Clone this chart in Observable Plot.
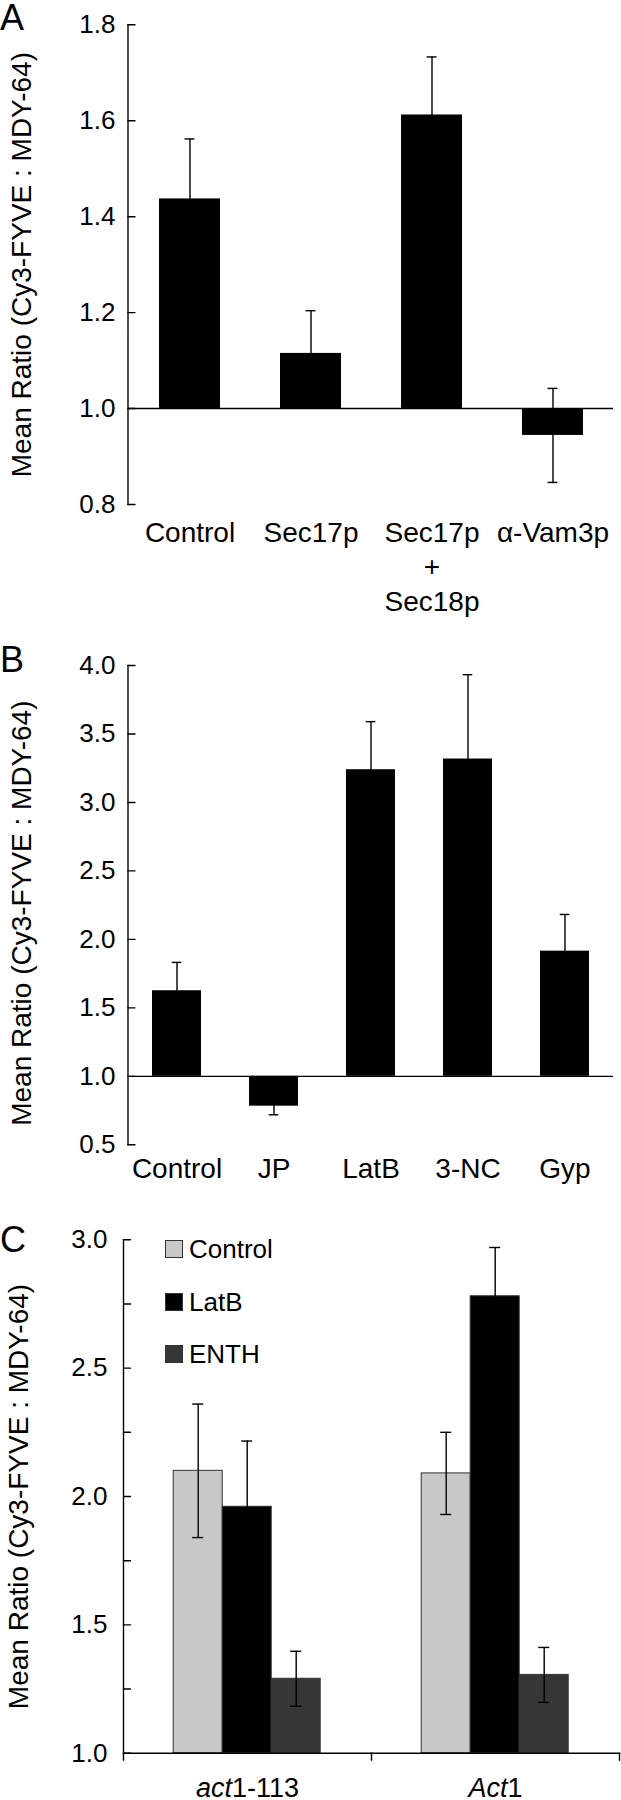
<!DOCTYPE html>
<html>
<head>
<meta charset="utf-8">
<script src="https://cdn.jsdelivr.net/npm/d3@7"></script>
<script src="https://cdn.jsdelivr.net/npm/@observablehq/plot@0.6"></script>
<style>
  html, body { margin: 0; padding: 0; background: #fff; }
  #wrap { position: relative; width: 621px; height: 1800px; overflow: hidden;
          font-family: "Liberation Sans", Arial, Helvetica, sans-serif; color: #000; }
  .panel { position: absolute; left: 0; }
  .letter { position: absolute; left: 0; font-size: 36px; line-height: 1; }
  .legrow { position: absolute; display: flex; align-items: center; height: 18px; }
  .legbox { width: 18px; height: 18px; box-sizing: border-box; border: 1.5px solid #333; }
  .leglab { font-size: 26px; line-height: 18px; margin-left: 6px; white-space: nowrap; }
</style>
</head>
<body>
<div id="wrap"></div>
<script>
// ---------------- data ----------------
const yLabel = "Mean Ratio (Cy3-FYVE : MDY-64)";
const baseline = 1;

// Panel A
const catsA = ["Control", "Sec17p", "Sec17p\n+\nSec18p", "α-Vam3p"];
const valsA = [1.437, 1.115, 1.612, 0.944];
const errsA = [0.125, 0.089, 0.121, 0.098];
const ticksA = [0.8, 1.0, 1.2, 1.4, 1.6, 1.8];

// Panel B
const catsB = ["Control", "JP", "LatB", "3-NC", "Gyp"];
const valsB = [1.625, 0.782, 3.239, 3.317, 1.914];
const errsB = [0.207, 0.063, 0.351, 0.616, 0.268];
const ticksB = [0.5, 1.0, 1.5, 2.0, 2.5, 3.0, 3.5, 4.0];

// Panel C
const groupsC = ["act1-113", "Act1"];
const italicC = ["act", "Act"];
const seriesC = ["Control", "LatB", "ENTH"];
const controlC = [2.10, 2.09];
const latbC = [1.96, 2.78];
const enthC = [1.29, 1.305];
const controlErrC = [0.26, 0.16];
const latbErrC = [0.256, 0.19];
const enthErrC = [0.107, 0.107];
const ticksC = [1.0, 1.5, 2.0, 2.5, 3.0];
const minorC = [1.25, 1.75, 2.25, 2.75];

// ---------------- styles ----------------
const FONT = '"Liberation Sans", Arial, Helvetica, sans-serif';
const colorsC = ["#c8c8c8", "#000000", "#363636"];
const SW = 1.4;
const styleBase = { fontFamily: FONT, color: "#000", background: "transparent", overflow: "visible" };
const tickShape = { draw(context, l) { context.moveTo(0, 0); context.lineTo(0, -l); } };
const inTicks = (vals, extra = {}) => Plot.vector(vals, {
  y: d => d, frameAnchor: "left", rotate: 90, length: 7, anchor: "start",
  shape: tickShape, stroke: "black", strokeWidth: SW, ...extra
});
const fmt = d3.format(".1f");
const yTitle = (dx, extra = {}) => Plot.text([yLabel], {
  text: d => d, frameAnchor: "left", rotate: -90, dx, lineAnchor: "top",
  textAnchor: "middle", fontSize: 28, ...extra
});

const wrap = document.getElementById("wrap");
function place(node, top) {
  const d = document.createElement("div");
  d.className = "panel";
  d.style.top = top + "px";
  d.appendChild(node);
  wrap.appendChild(d);
}
function letter(t, top) {
  const d = document.createElement("div");
  d.className = "letter";
  d.style.top = top + "px";
  d.textContent = t;
  wrap.appendChild(d);
}

// ---------------- Panel A ----------------
const dataA = catsA.map((c, i) => ({ cat: c, v: valsA[i], e: errsA[i] }));
const plotA = Plot.plot({
  width: 621, height: 620,
  marginTop: 24.3, marginBottom: 116, marginLeft: 127.5, marginRight: 8,
  style: { ...styleBase, fontSize: "26px" },
  x: { domain: catsA, paddingInner: 0.5, paddingOuter: 0.25, label: null },
  y: { domain: [0.8, 1.8], label: null },
  marks: [
    Plot.barY(dataA, { x: "cat", y1: baseline, y2: "v", fill: "black" }),
    Plot.ruleX(dataA, { x: "cat", y1: d => d.v - d.e, y2: d => d.v + d.e, stroke: "black", strokeWidth: SW }),
    Plot.tickY(dataA, { x: "cat", y: d => d.v + d.e, insetLeft: 25.5, insetRight: 25.5, strokeWidth: SW }),
    Plot.tickY(dataA, { x: "cat", y: d => d.v - d.e, insetLeft: 25.5, insetRight: 25.5, strokeWidth: SW }),
    Plot.ruleY([baseline], { stroke: "black", strokeWidth: SW }),
    Plot.frame({ anchor: "left", stroke: "black", strokeWidth: SW }),
    inTicks(ticksA),
    Plot.axisY(ticksA, { tickSize: 0, tickPadding: 12.5, tickFormat: fmt, fontSize: 26, label: null }),
    Plot.axisX({ tickSize: 0, tickPadding: 13, fontSize: 28, lineHeight: 1.23, label: null }),
    yTitle(-117)
  ]
});
place(plotA, 0);
letter("A", 0);

// ---------------- Panel B ----------------
const dataB = catsB.map((c, i) => ({ cat: c, v: valsB[i], e: errsB[i] }));
const plotB = Plot.plot({
  width: 621, height: 600,
  marginTop: 45, marginBottom: 75.7, marginLeft: 127.5, marginRight: 8,
  style: { ...styleBase, fontSize: "26px" },
  x: { domain: catsB, paddingInner: 0.49, paddingOuter: 0.245, label: null },
  y: { domain: [0.5, 4.0], label: null },
  marks: [
    Plot.barY(dataB, { x: "cat", y1: baseline, y2: "v", fill: "black" }),
    Plot.ruleX(dataB, { x: "cat", y1: d => d.v - d.e, y2: d => d.v + d.e, stroke: "black", strokeWidth: SW }),
    Plot.tickY(dataB, { x: "cat", y: d => d.v + d.e, insetLeft: 19.7, insetRight: 19.7, strokeWidth: SW }),
    Plot.tickY(dataB, { x: "cat", y: d => d.v - d.e, insetLeft: 19.7, insetRight: 19.7, strokeWidth: SW }),
    Plot.ruleY([baseline], { stroke: "black", strokeWidth: SW }),
    Plot.frame({ anchor: "left", stroke: "black", strokeWidth: SW }),
    inTicks(ticksB),
    Plot.axisY(ticksB, { tickSize: 0, tickPadding: 12.5, tickFormat: fmt, fontSize: 26, label: null }),
    Plot.axisX({ tickSize: 0, tickPadding: 13, fontSize: 28, label: null }),
    yTitle(-117, { dy: 8 })
  ]
});
place(plotB, 620);
letter("B", 642);

// ---------------- Panel C ----------------
const valsC = [controlC, latbC, enthC];
const errsC = [controlErrC, latbErrC, enthErrC];
const dataC = [];
groupsC.forEach((g, gi) => seriesC.forEach((s, si) =>
  dataC.push({ g, s, v: valsC[si][gi], e: errsC[si][gi] })));

const plotC = Plot.plot({
  width: 621, height: 580,
  marginTop: 19.3, marginBottom: 47.3, marginLeft: 122.8, marginRight: 1.2,
  style: { ...styleBase, fontSize: "26px" },
  fx: { domain: groupsC, padding: 0, label: null },
  x: { domain: seriesC, paddingInner: 0, paddingOuter: 0.99, axis: null },
  y: { domain: [1, 3], label: null },
  color: { domain: seriesC, range: colorsC },
  marks: [
    Plot.barY(dataC, { fx: "g", x: "s", y1: baseline, y2: "v", fill: "s", stroke: "#333", strokeWidth: 1 }),
    Plot.ruleX(dataC, { fx: "g", x: "s", y1: d => d.v - d.e, y2: d => d.v + d.e, stroke: "black", strokeWidth: SW }),
    Plot.tickY(dataC, { fx: "g", x: "s", y: d => d.v + d.e, insetLeft: 19, insetRight: 19, strokeWidth: SW }),
    Plot.tickY(dataC, { fx: "g", x: "s", y: d => d.v - d.e, insetLeft: 19, insetRight: 19, strokeWidth: SW }),
    Plot.frame({ anchor: "left", facetAnchor: "left", stroke: "black", strokeWidth: SW }),
    Plot.frame({ anchor: "bottom", stroke: "black", strokeWidth: SW }),
    inTicks(ticksC.concat(minorC), { facetAnchor: "left" }),
    Plot.vector([0], { frameAnchor: "bottom-left", rotate: 180, length: 7, anchor: "start", shape: tickShape, stroke: "black", strokeWidth: SW }),
    Plot.vector([0], { frameAnchor: "bottom-right", facetAnchor: "right", rotate: 180, length: 7, anchor: "start", shape: tickShape, stroke: "black", strokeWidth: SW }),
    Plot.axisY(ticksC, { tickSize: 0, tickPadding: 16, tickFormat: fmt, fontSize: 26, label: null }),
    Plot.axisFx({ anchor: "bottom", tickSize: 0, tickPadding: 25, fontSize: 27, label: null }),
    yTitle(-115, { facetAnchor: "left" })
  ]
});
// partial italics for gene names
plotC.querySelectorAll("text").forEach(t => {
  const i = groupsC.indexOf(t.textContent);
  if (i < 0) return;
  const pre = italicC[i];
  t.textContent = "";
  const a = document.createElementNS("http://www.w3.org/2000/svg", "tspan");
  a.setAttribute("font-style", "italic");
  a.textContent = pre;
  const b = document.createElementNS("http://www.w3.org/2000/svg", "tspan");
  b.textContent = groupsC[i].slice(pre.length);
  t.appendChild(a); t.appendChild(b);
});
place(plotC, 1220);
letter("C", 1222);

// legend for panel C
seriesC.forEach((s, i) => {
  const row = document.createElement("div");
  row.className = "legrow";
  row.style.left = "165px";
  row.style.top = (1240 + i * 52.5) + "px";
  const box = document.createElement("div");
  box.className = "legbox";
  box.style.background = colorsC[i];
  const lab = document.createElement("span");
  lab.className = "leglab";
  lab.textContent = s;
  row.appendChild(box); row.appendChild(lab);
  wrap.appendChild(row);
});
</script>
</body>
</html>
